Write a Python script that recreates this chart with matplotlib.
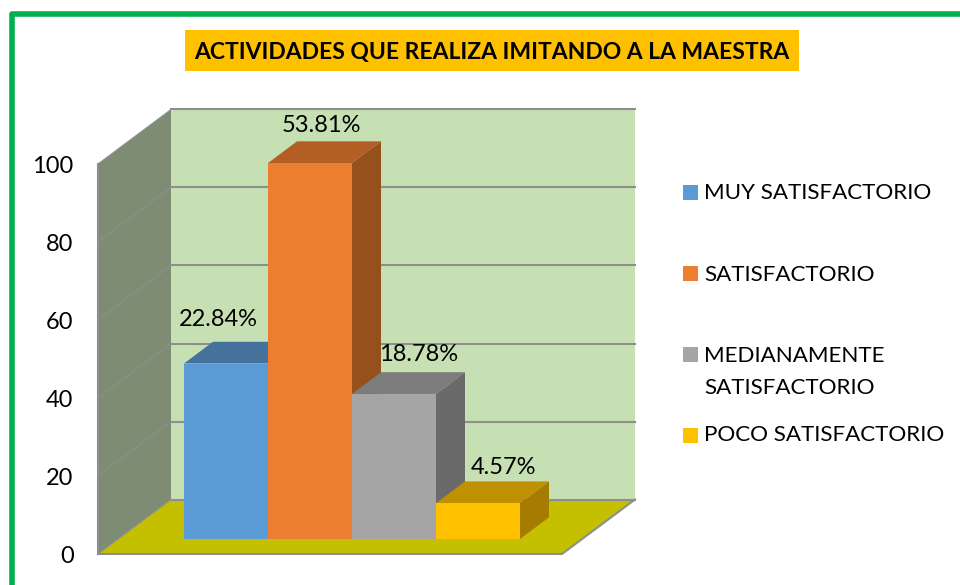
import matplotlib
matplotlib.use('Agg')
import matplotlib.pyplot as plt
from matplotlib.patches import Rectangle

plt.rcParams['font.family'] = ['Lato', 'DejaVu Sans']

title = 'ACTIVIDADES QUE REALIZA IMITANDO A LA MAESTRA'
categories = ['MUY SATISFACTORIO', 'SATISFACTORIO', 'MEDIANAMENTE\nSATISFACTORIO', 'POCO SATISFACTORIO']
values = [45, 96.4, 37.2, 9.2]
value_labels = ['22.84%', '53.81%', '18.78%', '4.57%']
y_ticks = [0, 20, 40, 60, 80, 100]

front_colors = ['#5b9bd5', '#ed7d31', '#a5a5a5', '#ffc000']
top_colors = ['#44729c', '#b35e25', '#7c7c7c', '#bf9000']
side_colors = ['#3d6690', '#95501c', '#6a6a6a', '#a67c00']

W, H = 960, 585
# one value unit = 3.9 px, one category = 84 px
Y_SCALE = 3.9
X_SCALE = 84
Y0_PX = 554
X0_PX = 226


def px(x):
    return (x - X0_PX) / X_SCALE


def py(y):
    return (Y0_PX - y) / Y_SCALE


# depth of the box and of the bars, in data units
WALL_DX, WALL_DY = 73 / X_SCALE, 54.5 / Y_SCALE
BAR_DX, BAR_DY = 29 / X_SCALE, 21.7 / Y_SCALE
BAR_BASE = py(539)
LEFT, RIGHT = px(98), px(562)
GRID = '#8e8e8e'

fig = plt.figure(figsize=(W / 100, H / 100), dpi=100)
ax = fig.add_axes([0, 0, 1, 1])
ax.set_xlim(px(0), px(W))
ax.set_ylim(py(H), py(0))
ax.axis('off')

# green frame, runs off the picture on the right and bottom
fig.add_artist(plt.Line2D([11.5 / W, 11.5 / W, 1], [0, 1 - 14.3 / H, 1 - 14.3 / H],
                          color='#00b050', lw=4.0, solid_joinstyle='round'))

# title
fig.add_artist(Rectangle((185 / W, 1 - 71 / H), 614 / W, 41 / H, color='#ffc000', lw=0))
fig.text(491.5 / W, 1 - 53 / H, title, ha='center', va='center', fontsize=16.5,
         fontweight='bold', color='black')

# walls and floor
top = y_ticks[-1]
ax.fill([LEFT + WALL_DX, RIGHT + WALL_DX, RIGHT + WALL_DX, LEFT + WALL_DX],
        [WALL_DY, WALL_DY, top + WALL_DY, top + WALL_DY], color='#c6e0b4', lw=0, zorder=1)
ax.fill([LEFT, LEFT + WALL_DX, LEFT + WALL_DX, LEFT],
        [0, WALL_DY, top + WALL_DY, top], color='#7f8c74', lw=0, zorder=1)
ax.fill([LEFT, RIGHT, RIGHT + WALL_DX, LEFT + WALL_DX],
        [0, 0, WALL_DY, WALL_DY], color='#c4c000', lw=0, zorder=1)

for t in y_ticks:
    ax.plot([LEFT, LEFT + WALL_DX], [t, t + WALL_DY], color=GRID, lw=0.8, zorder=2)
    ax.plot([LEFT + WALL_DX, RIGHT + WALL_DX], [t + WALL_DY, t + WALL_DY],
            color=GRID, lw=1.5, zorder=2)
    ax.text(px(73.5), t - 0.7, str(t), ha='right', va='center', fontsize=17, color='black')
ax.plot([LEFT, LEFT], [0, top], color=GRID, lw=1.5, zorder=2)
ax.plot([LEFT, RIGHT, RIGHT + WALL_DX], [0, 0, WALL_DY], color=GRID, lw=1.5, zorder=2)

# bars, left to right so each one hides the side of the previous
label_dx = [-8, 11, 25, 25]
label_dy = [44, 38, 39, 36]
for i, v in enumerate(values):
    z = 3 + i
    x0, x1 = i - 0.5, i + 0.5
    y1 = BAR_BASE + v
    ax.fill([x1, x1 + BAR_DX, x1 + BAR_DX, x1],
            [BAR_BASE, BAR_BASE + BAR_DY, y1 + BAR_DY, y1], color=side_colors[i], lw=0, zorder=z)
    ax.fill([x0, x1, x1 + BAR_DX, x0 + BAR_DX],
            [y1, y1, y1 + BAR_DY, y1 + BAR_DY], color=top_colors[i], lw=0, zorder=z)
    ax.bar(i, v, width=1, bottom=BAR_BASE, color=front_colors[i], lw=0, zorder=z)
    ax.text(i + label_dx[i] / X_SCALE, y1 + label_dy[i] / Y_SCALE, value_labels[i],
            ha='center', va='center', fontsize=17, color='black', zorder=10)

# legend, the two line entry has its text centred below the square
legend_y = [193, 274, 354, 435]
text_y = [193.5, 275, 372, 435]
for color, name, y, ty in zip(front_colors, categories, legend_y, text_y):
    ax.add_patch(Rectangle((px(683), py(y + 7.5)), 15 / X_SCALE, 15 / Y_SCALE, color=color, lw=0))
    ax.text(px(704), py(ty), name, ha='left', va='center', fontsize=16.1, color='black',
            linespacing=1.7)

fig.savefig('out.png', dpi=100)
